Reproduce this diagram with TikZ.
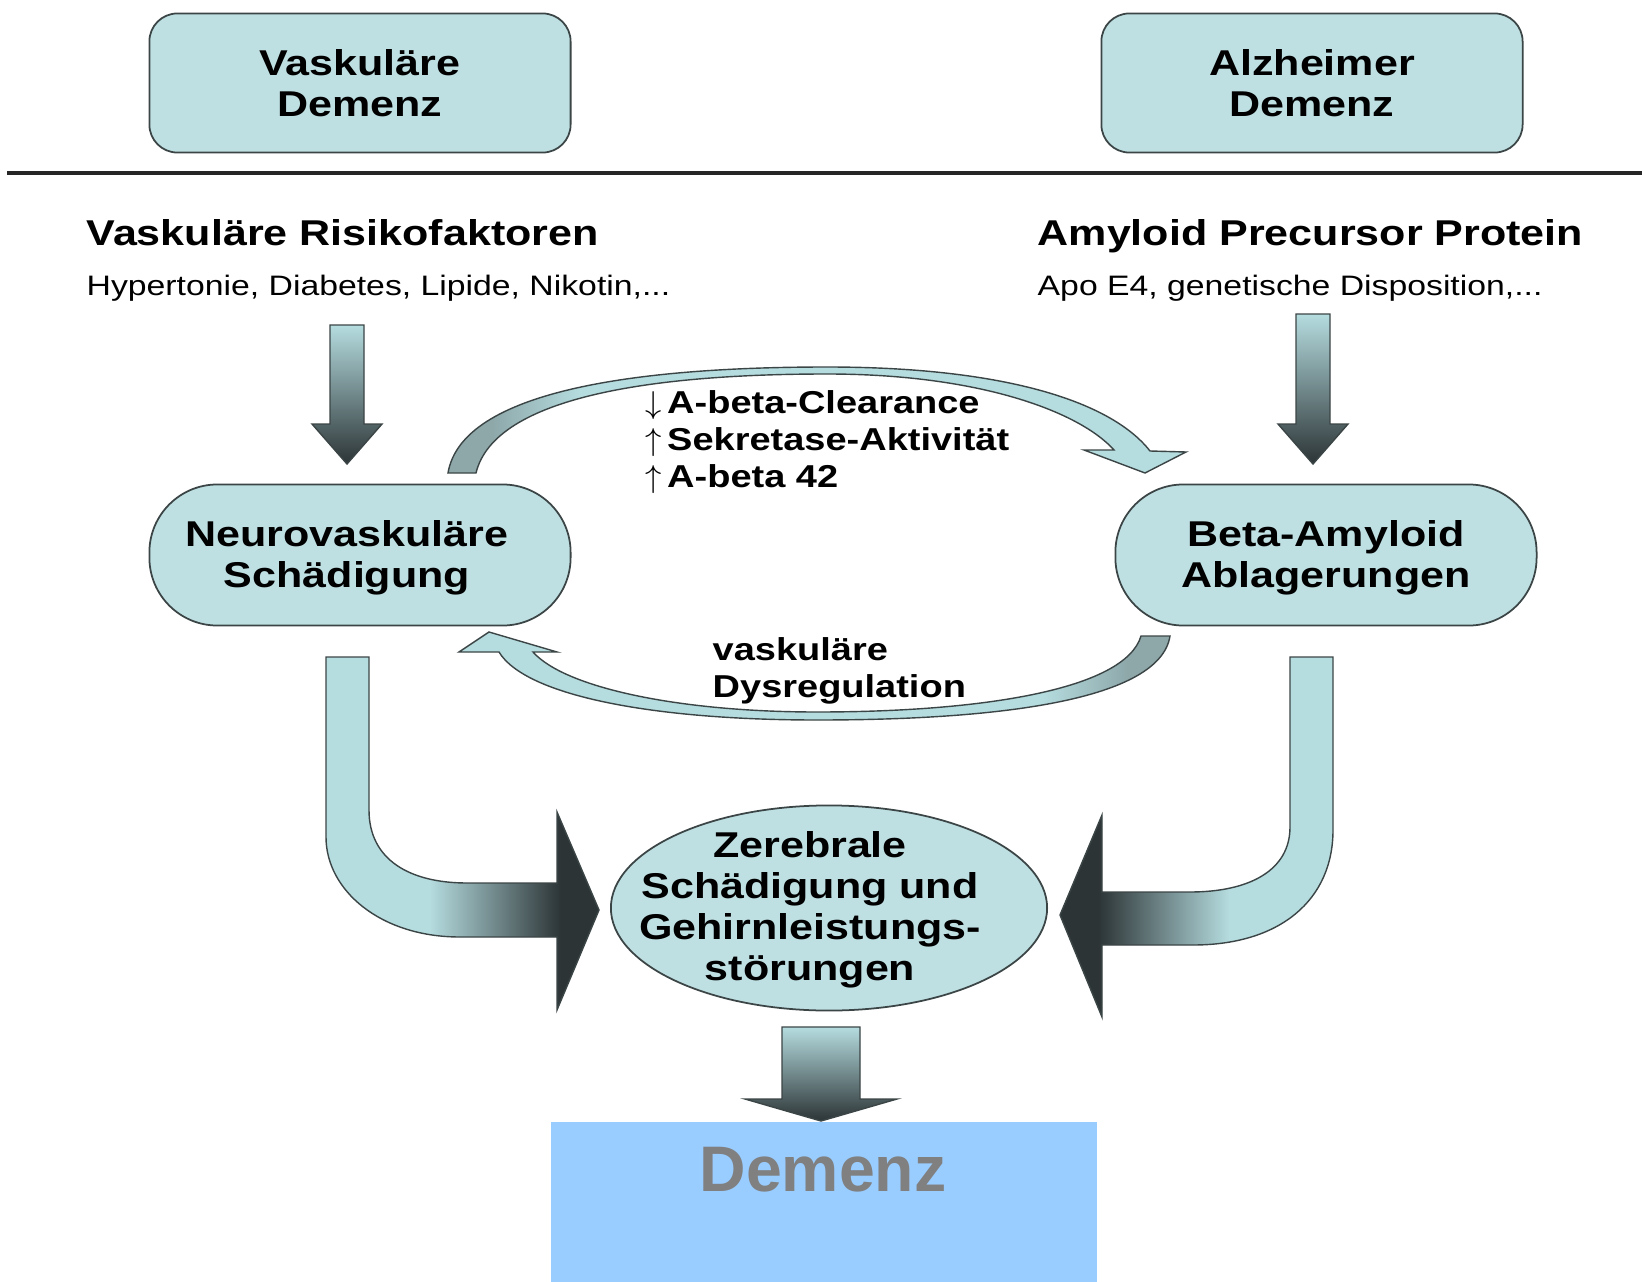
\documentclass[tikz,border=0pt]{standalone}
\usepackage{fontspec}
\setmainfont[FakeStretch=1.2]{Liberation Sans}
\newfontfamily\demfont{Liberation Sans}
\usepackage{tikz}
\usetikzlibrary{shapes.geometric,positioning,calc}
\definecolor{boxfill}{HTML}{BFE0E3}
\definecolor{edgegray}{HTML}{3C4546}
\definecolor{arrlight}{HTML}{B5DCDF}
\definecolor{arrdark}{HTML}{2C3436}
\definecolor{banddark}{HTML}{8EA8AA}
\definecolor{demfill}{HTML}{99CCFF}
\definecolor{demtext}{HTML}{808080}

\pgfdeclarehorizontalshading{lbendshade}{100bp}{color(0bp)=(arrlight); color(44bp)=(arrlight); color(68bp)=(arrdark); color(100bp)=(arrdark)}
\pgfdeclarehorizontalshading{rbendshade}{100bp}{color(0bp)=(arrdark); color(32bp)=(arrdark); color(56bp)=(arrlight); color(100bp)=(arrlight)}
\pgfdeclarehorizontalshading{topbandshade}{100bp}{color(0bp)=(banddark); color(28bp)=(banddark); color(34bp)=(arrlight); color(100bp)=(arrlight)}
\pgfdeclarehorizontalshading{botbandshade}{100bp}{color(0bp)=(arrlight); color(66bp)=(arrlight); color(72bp)=(banddark); color(100bp)=(banddark)}

% x centre, top, head base, tip, half shaft, half head
\newcommand{\blockdown}[6]{%
  \shade[blockarrow] ({#1-#5},#2) -- ({#1+#5},#2) -- ({#1+#5},#3) -- ({#1+#6},#3)
    -- (#1,#4) -- ({#1-#6},#3) -- ({#1-#5},#3) -- cycle;}

\begin{document}
\begin{tikzpicture}[x=0.01cm,y=-0.01cm,
  topbox/.style={draw=edgegray,fill=boxfill,line width=0.5pt,rounded corners=0.28cm,
    minimum width=4.21cm,minimum height=1.39cm,align=center,
    font=\fontsize{10.2}{11.7}\selectfont\bfseries},
  pillbox/.style={topbox,rounded corners=0.68cm,minimum height=1.41cm},
  boxtext/.style={align=center,inner sep=0pt,font=\fontsize{10.2}{11.7}\selectfont\bfseries},
  blockarrow/.style={draw=edgegray,line width=0.4pt,top color=arrlight,bottom color=arrdark},
  bendarrow/.style={draw=edgegray,line width=0.4pt},
  heading/.style={anchor=base west,inner sep=0pt,font=\fontsize{10.2}{11.7}\selectfont\bfseries},
  subline/.style={anchor=base west,inner sep=0pt,font=\fontsize{8}{9.6}\selectfont},
  looplabel/.style={anchor=west,inner sep=0pt,align=left,font=\fontsize{9}{10.5}\selectfont\bfseries}]

  \useasboundingbox (0,0) rectangle (1642,1282);
  \fill[white] (0,0) rectangle (1642,1282);

  % top row
  \node[topbox] (vaskdem) at (360,83) {Vaskuläre\\Demenz};
  \node[topbox] (alzdem) at (1312,83) {Alzheimer\\Demenz};
  \draw[line width=0.9pt,black!85] (7,173) -- (1642,173);

  % causes
  \node[heading] (riskhead) at (86,246) {Vaskuläre Risikofaktoren};
  \node[subline] (risksub) at (86,295) {Hypertonie, Diabetes, Lipide, Nikotin,...};
  \node[heading] (apphead) at (1037,246) {Amyloid Precursor Protein};
  \node[subline] (appsub) at (1037,295) {Apo E4, genetische Disposition,...};
  \blockdown{347}{325}{424}{464}{17}{35}
  \blockdown{1313}{314}{424}{464}{17}{35}

  % loop between the two lesions
  \shade[bendarrow,shading=topbandshade]
    (448,473) .. controls (462,390) and (640,367) .. (827,367)
    .. controls (1000,367) and (1110,400) .. (1150,451)
    -- (1186,452) -- (1145,473) -- (1084,450) -- (1114,450)
    .. controls (1080,412) and (980,374) .. (827,374)
    .. controls (660,374) and (495,395) .. (476,473) -- cycle;
  \shade[bendarrow,shading=botbandshade]
    (1170,636) .. controls (1160,700) and (1000,720) .. (817,720)
    .. controls (650,720) and (525,695) .. (499,652)
    -- (459,652) -- (489,632) -- (557,652) -- (533,652)
    .. controls (565,688) and (680,712) .. (817,712)
    .. controls (980,712) and (1125,690) .. (1141,636) -- cycle;
  \node[pillbox] (neuro) at (360,555) {};
  \node[boxtext] (neurotext) at ($(neuro.center)+(-13,3)$) {Neurovaskuläre\\Schädigung};
  \node[pillbox] (betaam) at (1326,555) {};
  \node[boxtext] (betatext) at ($(betaam.center)+(0,3)$) {Beta-Amyloid\\Ablagerungen};
  \node[looplabel] (mechs) at (645,442) {$\downarrow$\kern1.5pt A-beta-Clearance\\$\uparrow$\kern1.5pt Sekretase-Aktivität\\$\uparrow$\kern1.5pt A-beta 42};
  \node[looplabel] (dysreg) at (712,671) {vaskuläre\\Dysregulation};

  % into the cerebral damage
  \shade[bendarrow,shading=lbendshade]
    (326,657) -- (369,657) -- (369,810) .. controls (369,860) and (410,883) .. (467,883)
    -- (557,883) -- (557,812) -- (599,910) -- (557,1010) -- (557,937) -- (460,937)
    .. controls (380,937) and (326,890) .. (326,837) -- cycle;
  \shade[bendarrow,shading=rbendshade]
    (1333,657) -- (1290,657) -- (1290,827) .. controls (1290,870) and (1250,892) .. (1190,892)
    -- (1102,892) -- (1102,815) -- (1060,915) -- (1102,1017) -- (1102,945) -- (1193,945)
    .. controls (1280,945) and (1333,900) .. (1333,830) -- cycle;
  \node[ellipse,draw=edgegray,fill=boxfill,line width=0.5pt,inner sep=0pt,
    minimum width=4.36cm,minimum height=2.05cm] (zereb) at (829,908) {};
  \node[boxtext] (zerebtext) at ($(zereb.center)+(-19,2)$)
    {Zerebrale\\Schädigung und\\Gehirnleistungs-\\störungen};

  % result
  \blockdown{821}{1027}{1099}{1121}{39}{76}
  \node[fill=demfill,anchor=north west,inner sep=0pt,minimum width=5.46cm,minimum height=1.61cm] (demenz) at (550,1121) {};
  \node[font=\demfont\fontsize{18.3}{20}\selectfont\bfseries,text=demtext] (demlabel) at (823,1170) {Demenz};
\end{tikzpicture}
\end{document}
